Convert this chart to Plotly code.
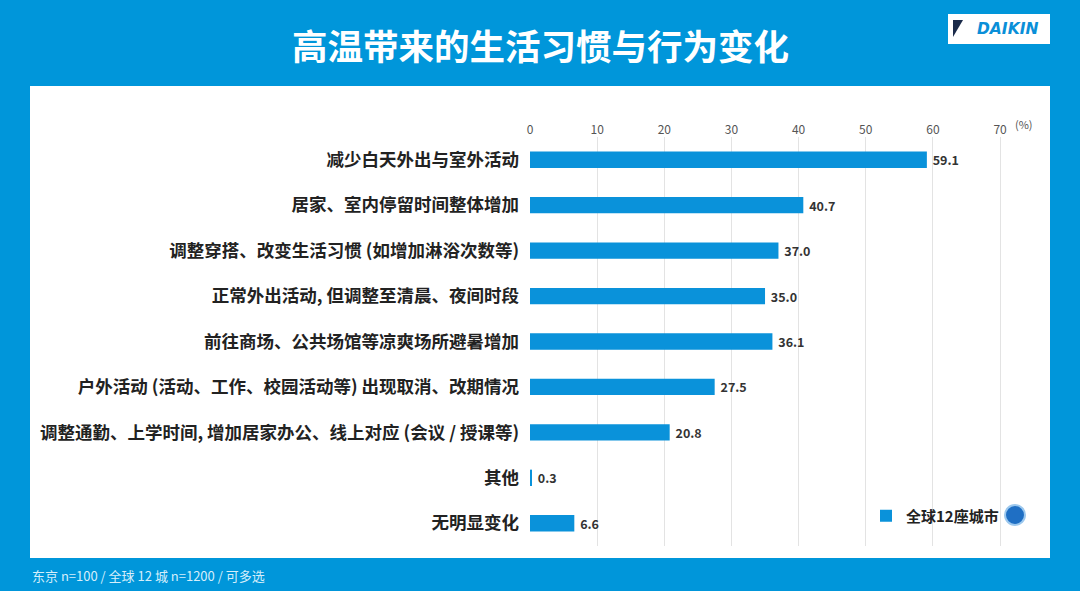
import plotly.graph_objects as go

categories = [
    "减少白天外出与室外活动",
    "居家、室内停留时间整体增加",
    "调整穿搭、改变生活习惯 (如增加淋浴次数等)",
    "正常外出活动, 但调整至清晨、夜间时段",
    "前往商场、公共场馆等凉爽场所避暑增加",
    "户外活动 (活动、工作、校园活动等) 出现取消、改期情况",
    "调整通勤、上学时间, 增加居家办公、线上对应 (会议 / 授课等)",
    "其他",
    "无明显变化",
]
values = [59.1, 40.7, 37.0, 35.0, 36.1, 27.5, 20.8, 0.3, 6.6]
series_name = "全球12座城市"
title = "高温带来的生活习惯与行为变化"
footnote = "东京 n=100 / 全球 12 城 n=1200 / 可多选"

W, H = 1080, 591
L, R, T, B = 530, 43, 137, 45
BG = "#0096da"
BAR = "#0a92da"
FONT = "Noto Sans CJK SC"

# helpers: pixel -> paper coords
def px(x):
    return (x - L) / (W - L - R)

def py(y):
    return (H - B - y) / (H - T - B)

fig = go.Figure()
fig.add_trace(go.Bar(
    x=values, y=categories, orientation="h", name=series_name,
    marker=dict(color=BAR, line=dict(width=0)), width=0.36,
    text=[f" {v:.1f}" for v in values], textposition="outside",
    constraintext="none",
    textfont=dict(family=FONT, size=12.5, color="#333333", weight="bold"),
    cliponaxis=False,
))

shapes = [
    # white panel
    dict(type="rect", xref="paper", yref="paper", layer="below",
         x0=px(30), x1=px(1050), y0=py(558), y1=py(86),
         fillcolor="white", line=dict(width=0)),
    # logo box
    dict(type="rect", xref="paper", yref="paper",
         x0=px(948), x1=px(1050), y0=py(44), y1=py(14),
         fillcolor="white", line=dict(width=0)),
    dict(type="path", xref="paper", yref="paper",
         path=f"M {px(953)},{py(20)} L {px(963)},{py(20)} L {px(953)},{py(37)} Z",
         fillcolor="#1a2a4a", line=dict(width=0)),
    # globe icon
    dict(type="circle", xref="paper", yref="paper",
         x0=px(1005), x1=px(1025), y0=py(525), y1=py(505),
         fillcolor="#1f6fc4", line=dict(color="#9cc8ee", width=2)),
]

def note(text, x, y, size, color, xanchor="center", family=FONT):
    return dict(text=text, x=px(x), y=py(y), xref="paper", yref="paper",
                xanchor=xanchor, yanchor="middle", showarrow=False,
                font=dict(family=family, size=size, color=color))

annotations = [
    note(f"<b>{title}</b>", 540, 44, 35.5, "white"),
    note("<b><i>DAIKIN</i></b>", 1007, 29, 15.5, "#0a8fd8", family="DejaVu Sans"),
    note("(%)", 1013, 124, 11, "#555555", xanchor="left"),
    note(footnote, 30, 575, 13, "#d6eefa", xanchor="left"),
]

fig.update_layout(
    width=W, height=H,
    margin=dict(l=L, r=R, t=T, b=B),
    paper_bgcolor=BG, plot_bgcolor="white",
    font=dict(family=FONT),
    bargap=0.6,
    shapes=shapes, annotations=annotations,
    showlegend=True,
    legend=dict(x=px(866), y=py(516), xanchor="left", yanchor="middle",
                bgcolor="rgba(0,0,0,0)",
                font=dict(family=FONT, size=15, color="#222222", weight="bold")),
)
fig.update_xaxes(side="top", range=[0, 75.5], dtick=10, tick0=0,
                 showgrid=True, gridcolor="#e3e3e3", gridwidth=1,
                 zeroline=False, showline=False, ticks="",
                 tickfont=dict(family=FONT, size=12, color="#555555"))
fig.update_yaxes(autorange="reversed", showgrid=False, showline=False, ticks="",
                 ticklabelstandoff=10,
                 tickfont=dict(family=FONT, size=17.5, color="#222222", weight="bold"))

fig.write_html("out.html", config={"displayModeBar": False},
               post_script="document.body.style.margin='0';")
